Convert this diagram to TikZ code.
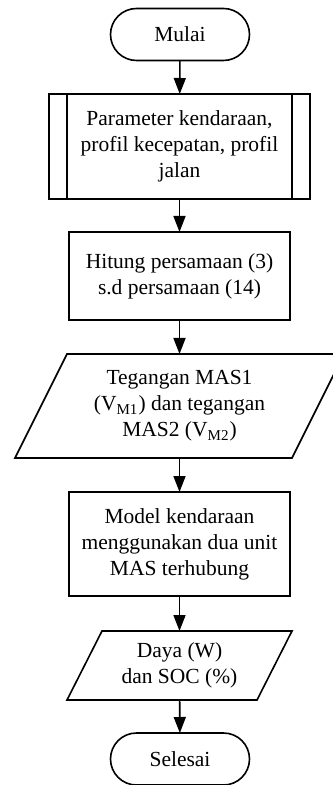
\documentclass[tikz,border=0pt]{standalone}
\usepackage{fontspec}
\setmainfont{Liberation Serif}
\usetikzlibrary{arrows.meta}

\begin{document}
\begin{tikzpicture}[x=0.5pt,y=-0.5pt]
\useasboundingbox (0,0) rectangle (332,785);
\tikzstyle{terminal} = [draw,rectangle,rounded corners=13pt,line width=0.8pt,inner sep=0,outer sep=0,minimum width=69.5pt,minimum height=26pt,font=\fontsize{10.75pt}{13pt}\selectfont]
\tikzstyle{prozess} = [draw,rectangle,line width=0.8pt,inner sep=0,outer sep=0,align=center,font=\fontsize{10.75pt}{13pt}\selectfont]
\tikzstyle{daten} = [rectangle,inner sep=0,outer sep=0,align=center,font=\fontsize{10.75pt}{13pt}\selectfont]
\tikzstyle{Linie} = [line width=0.8pt,line join=miter]

\node [terminal] (v1) at (180,34.5) {Mulai};
\node [prozess,minimum width=130.5pt,minimum height=52.5pt] (v2) at (179.5,146.5) {Parameter kendaraan,\\profil kecepatan, profil\\jalan};
\node [prozess,minimum width=110.5pt,minimum height=44pt] (v3) at (179.5,276) {Hitung persamaan (3)\\s.d persamaan (14)};
\node [daten,minimum width=138.5pt,minimum height=52pt] (v4) at (179.5,406) {Tegangan MAS1\\(V\textsubscript{M1}) dan tegangan\\MAS2 (V\textsubscript{M2})};
\node [prozess,minimum width=110.5pt,minimum height=52pt] (v5) at (179.5,544) {Model kendaraan\\menggunakan dua unit\\MAS terhubung};
\node [daten,minimum width=95pt,minimum height=34.5pt] (v6) at (179.5,665.5) {Daya (W)\\dan SOC (\%)};
\node [terminal] (v7) at (180,759) {Selesai};

% innere Linien
\draw [Linie] ([xshift=9pt]v2.north west) -- ([xshift=9pt]v2.south west);
\draw [Linie] ([xshift=-9pt]v2.north east) -- ([xshift=-9pt]v2.south east);

% Parallelogramme
\draw [Linie] ([xshift=-13pt]v4.south west) -- ([xshift=13pt]v4.north west) -- ([xshift=13pt]v4.north east) -- ([xshift=-13pt]v4.south east) -- cycle;
\draw [Linie] ([xshift=-8.75pt]v6.south west) -- ([xshift=8.75pt]v6.north west) -- ([xshift=8.75pt]v6.north east) -- ([xshift=-8.75pt]v6.south east) -- cycle;

\tikzstyle{Pfeil} = [-{Triangle[width=6pt,length=8pt]},line width=0.8pt]
\draw [Pfeil] (v1) edge (v2);
\draw [Pfeil] (v2) edge (v3);
\draw [Pfeil] (v3) edge (v4);
\draw [Pfeil] (v4) edge (v5);
\draw [Pfeil] (v5) edge (v6);
\draw [Pfeil] (v6) edge (v7);
\end{tikzpicture}
\end{document}
